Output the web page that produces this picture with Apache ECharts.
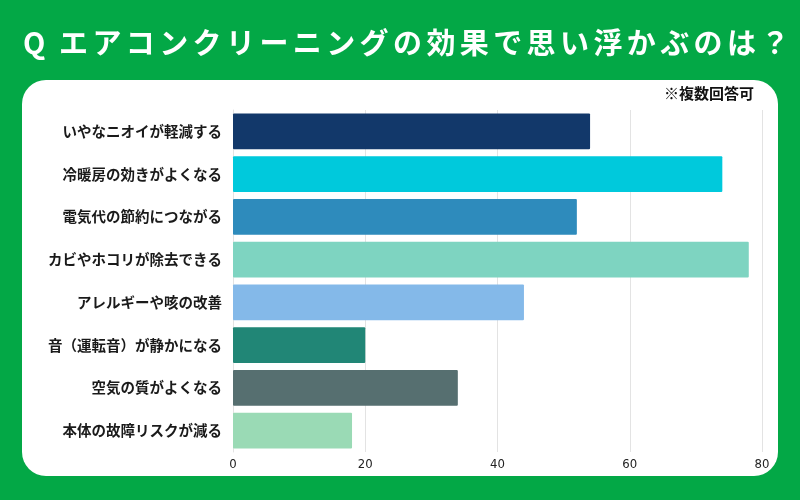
<!DOCTYPE html>
<html>
<head>
<meta charset="utf-8">
<style>
  html, body { margin: 0; padding: 0; background: #03a846; }
  #chart { width: 800px; height: 500px; }
</style>
<script src="https://cdn.jsdelivr.net/npm/echarts@6/dist/echarts.min.js"></script>
</head>
<body>
<div id="chart"></div>
<script>
const titleText = "Q エアコンクリーニングの効果で思い浮かぶのは？";
const noteText = "※複数回答可";

const categories = [
  "いやなニオイが軽減する",
  "冷暖房の効きがよくなる",
  "電気代の節約につながる",
  "カビやホコリが除去できる",
  "アレルギーや咳の改善",
  "音（運転音）が静かになる",
  "空気の質がよくなる",
  "本体の故障リスクが減る",
];
const values = [54, 74, 52, 78, 44, 20, 34, 18];
const barColors = [
  "#12386a", "#00c9dc", "#2e8bbc", "#7ed4c1",
  "#84b9e9", "#218676", "#566f70", "#9adab5",
];
const fontJP = "'Noto Sans CJK JP', 'Noto Sans', sans-serif";

// title is laid out char by char to get the wide spacing of the original
function titleChars() {
  const items = [];
  let x = 23;
  for (const ch of titleText) {
    items.push({
      type: "text",
      left: x,
      top: 28,
      style: {
        text: ch,
        fill: "#ffffff",
        font: `bold 29px ${fontJP}`,
      },
    });
    if (ch === "Q") x += 21;
    else if (ch === " ") x += 15;
    else x += 33.4;
  }
  return items;
}

const chart = echarts.init(document.getElementById("chart"));
chart.setOption({
  backgroundColor: "#03a846",
  animation: false,
  graphic: [
    {
      type: "rect",
      shape: { x: 22, y: 80, width: 756, height: 396, r: 24 },
      style: { fill: "#ffffff" },
      z: -1,
    },
    {
      type: "text",
      right: 46,
      top: 86,
      style: {
        text: noteText,
        fill: "#111111",
        font: `bold 15px ${fontJP}`,
      },
    },
    ...titleChars(),
  ],
  grid: { left: 233, right: 38, top: 110, bottom: 48 },
  xAxis: {
    type: "value",
    min: 0,
    max: 80,
    interval: 20,
    axisLine: { show: false },
    axisTick: { show: false },
    splitLine: { lineStyle: { color: "#e3e3e3" } },
    axisLabel: {
      color: "#222",
      fontSize: 13,
      margin: 6,
      fontFamily: "'DejaVu Sans Condensed', Roboto, sans-serif",
    },
  },
  yAxis: {
    type: "category",
    data: categories,
    inverse: true,
    axisLine: { show: true, lineStyle: { color: "#e3e3e3" } },
    axisTick: { show: false },
    axisLabel: {
      color: "#1a1a1a",
      fontSize: 14.5,
      fontWeight: "bold",
      margin: 11,
      fontFamily: fontJP,
    },
  },
  series: [
    {
      type: "bar",
      data: values.map((v, i) => ({ value: v, itemStyle: { color: barColors[i] } })),
      barWidth: "84%",
      itemStyle: { borderRadius: 1 },
    },
  ],
});
</script>
</body>
</html>
